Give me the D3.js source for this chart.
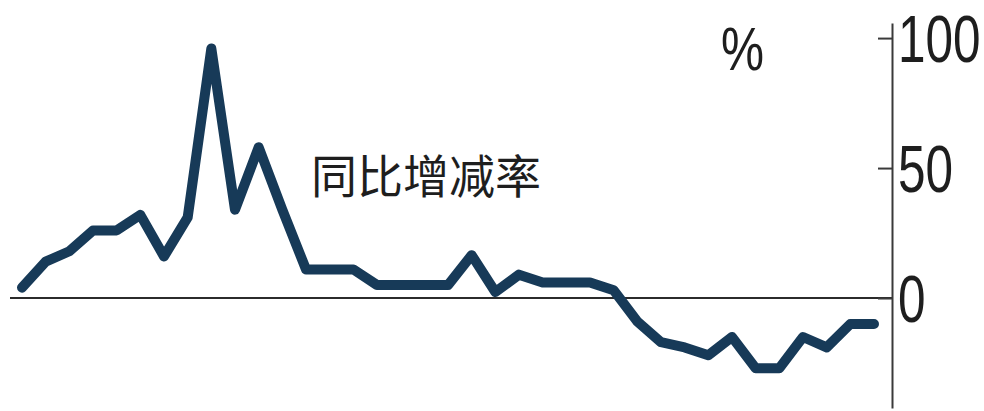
<!DOCTYPE html>
<html>
<head>
<meta charset="utf-8">
<script src="https://cdn.jsdelivr.net/npm/d3@7"></script>
<style>
  html, body { margin: 0; padding: 0; background: #ffffff; }
  svg { display: block; }
</style>
</head>
<body>
<svg id="chart" width="984" height="411"></svg>
<script>
// Year-on-year change, in percent, one value per period
const periods = d3.range(37);
const yoyChange = [
  4, 14, 18, 26, 26, 32, 16, 31, 96, 34,
  58, 34, 11, 11, 11, 5, 5, 5, 5, 16.5,
  2.3, 9, 6, 6, 6, 3, -9, -17, -19, -22,
  -15, -27, -27, -15, -19, -10, -10
];
const tickValues = [0, 50, 100];
const seriesLabel = "同比增减率";
const unitLabel = "%";

const svg = d3.select("#chart");

const x = d3.scaleLinear()
  .domain([0, periods.length - 1])
  .range([22, 874]);

const y = d3.scaleLinear()
  .domain([-42.3, 105.8])
  .range([408, 23]);

const axisX = 892;
const numFont = "'Liberation Sans', Arial, sans-serif";

// zero baseline
svg.append("line")
  .attr("x1", 10).attr("x2", axisX)
  .attr("y1", y(0)).attr("y2", y(0))
  .attr("stroke", "#2b2b2b")
  .attr("stroke-width", 2);

// right-hand value axis, ticks pointing inwards
const numScale = 0.75;
const axis = d3.axisRight(y)
  .tickValues(tickValues)
  .tickSizeInner(-14)
  .tickSizeOuter(0)
  .tickPadding(0)
  .tickFormat(d3.format("d"));

const gAxis = svg.append("g")
  .attr("transform", `translate(${axisX},0)`)
  .call(axis);

gAxis.select(".domain")
  .attr("stroke", "#3a3a3a")
  .attr("stroke-width", 2);
gAxis.selectAll(".tick line")
  .attr("stroke", "#3a3a3a")
  .attr("stroke-width", 2);
gAxis.selectAll(".tick text")
  .attr("fill", "#1e1e1e")
  .attr("font-family", numFont)
  .attr("font-size", 66)
  .attr("x", 6 / numScale)
  .attr("dy", "0.35em")
  .attr("transform", `scale(${numScale},1)`);

// unit label
svg.append("text")
  .attr("transform", `translate(721,70) scale(0.78,1)`)
  .attr("font-family", numFont)
  .attr("font-size", 62)
  .attr("fill", "#1e1e1e")
  .text(unitLabel);

// series label
svg.append("text")
  .attr("x", 311)
  .attr("y", 193)
  .attr("font-family", "'Noto Sans CJK SC', sans-serif")
  .attr("font-size", 46)
  .attr("fill", "#1e1e1e")
  .text(seriesLabel);

// the series line
const line = d3.line()
  .x((d, i) => x(periods[i]))
  .y(d => y(d));

svg.append("path")
  .datum(yoyChange)
  .attr("d", line)
  .attr("fill", "none")
  .attr("stroke", "#173a58")
  .attr("stroke-width", 10)
  .attr("stroke-linejoin", "round")
  .attr("stroke-linecap", "round");
</script>
</body>
</html>
